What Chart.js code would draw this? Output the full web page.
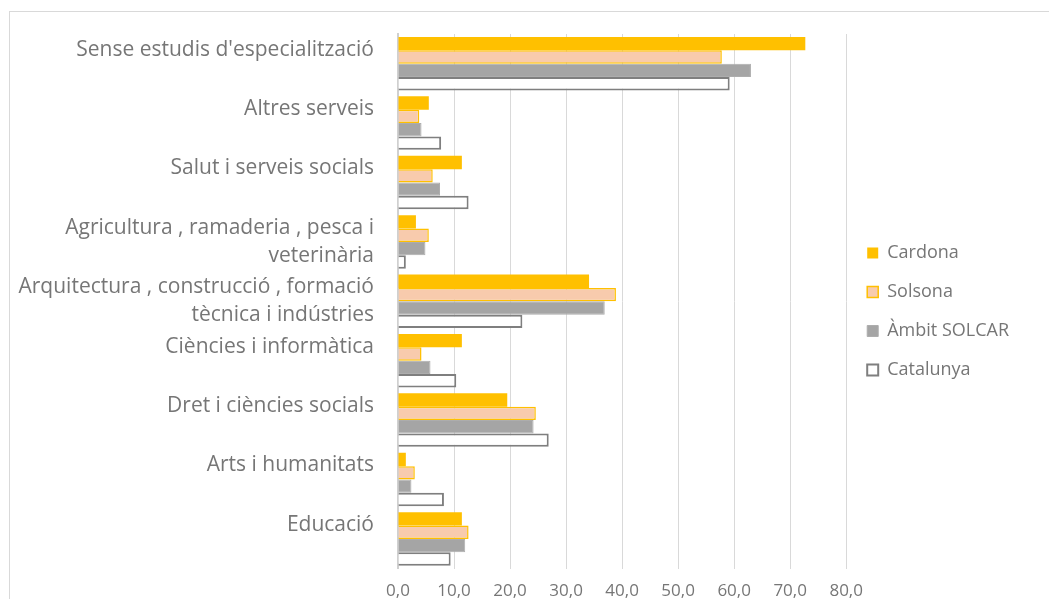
<!DOCTYPE html>
<html>
<head>
<meta charset="utf-8">
<script src="https://cdn.jsdelivr.net/npm/chart.js@4.4.1/dist/chart.umd.min.js"></script>
<style>
  html, body { margin: 0; padding: 0; background: #fff; overflow: hidden; }
  #frame { position: absolute; left: 9px; top: 11px; width: 1200px; height: 700px; border: 1px solid #d9d9d9; }
  #wrap { position: absolute; left: 0; top: 0; width: 1049px; height: 599px; }
</style>
</head>
<body>
<div id="frame"></div>
<div id="wrap"><canvas id="chart"></canvas></div>
<script>
// categories (top to bottom); single-line ones get an empty 2nd line so they sit like Excel's
const categories = [
    ["Sense estudis d'especialització", ""],
    ["Altres serveis", ""],
    ["Salut i serveis socials", ""],
    ["Agricultura , ramaderia , pesca i", "veterinària"],
    ["Arquitectura , construcció , formació", "tècnica i indústries"],
    ["Ciències i informàtica", ""],
    ["Dret i ciències socials", ""],
    ["Arts i humanitats", ""],
    ["Educació", ""]
];

const cardona   = [72.7, 5.5, 11.4, 3.2, 34.1, 11.4, 19.5, 1.4, 11.4];
const solsona   = [57.8, 3.8, 6.2, 5.5, 38.9, 4.2, 24.6, 3.0, 12.6];
const ambit     = [63.0, 4.2, 7.5, 4.9, 36.9, 5.8, 24.2, 2.4, 12.0];
const catalunya = [59.2, 7.7, 12.6, 1.4, 22.2, 10.4, 26.9, 8.2, 9.4];

const seriesNames = ['Cardona', 'Solsona', 'Àmbit SOLCAR', 'Catalunya'];

const textColor = '#767676';

// petit decalatge de la llegenda cap amunt (com a l'original)
const legendShift = {
    id: 'legendShift',
    afterLayout(chart) {
        if (!chart.legend) return;
        chart.legend.top -= 12;
        chart.legend.bottom -= 12;
    }
};

const ctx = document.getElementById('chart').getContext('2d');

new Chart(ctx, {
    type: 'bar',
    plugins: [legendShift],
    data: {
        labels: categories,
        datasets: [
            { label: seriesNames[0], data: cardona, backgroundColor: '#FFC000', borderWidth: 0 },
            { label: seriesNames[1], data: solsona, backgroundColor: '#F8CBAD', borderColor: '#FFC000', borderWidth: 1.5 },
            { label: seriesNames[2], data: ambit, backgroundColor: '#A5A5A5', borderColor: '#ADADAD', borderWidth: 1 },
            { label: seriesNames[3], data: catalunya, backgroundColor: '#FFFFFF', borderColor: '#7F7F7F', borderWidth: 2 }
        ]
    },
    options: {
        indexAxis: 'y',
        responsive: true,
        maintainAspectRatio: false,
        animation: false,
        datasets: {
            bar: { categoryPercentage: 0.9, barPercentage: 1.0, borderSkipped: 'start' }
        },
        layout: { padding: { left: 10, top: 34, right: 30, bottom: -14 } },
        plugins: {
            tooltip: { enabled: false },
            legend: {
                position: 'right',
                labels: {
                    color: textColor,
                    boxWidth: 11,
                    boxHeight: 11,
                    padding: 21,
                    font: { family: "'Open Sans'", size: 18 }
                }
            }
        },
        scales: {
            x: {
                min: 0,
                max: 80,
                ticks: {
                    stepSize: 10,
                    color: textColor,
                    padding: 12,
                    font: { family: "'Open Sans'", size: 17 },
                    callback: (v) => v.toFixed(1).replace('.', ',')
                },
                grid: { color: '#D9D9D9', lineWidth: 1, drawTicks: false },
                border: { display: false }
            },
            y: {
                afterFit: (scale) => {
                    scale.width = 388;
                    scale.paddingTop = 0;
                    scale.paddingBottom = 0;
                },
                ticks: {
                    autoSkip: false,
                    color: textColor,
                    padding: 24,
                    font: { family: "'Open Sans'", size: 21, lineHeight: 1.333 }
                },
                grid: { display: false, drawTicks: false },
                border: { display: true, color: '#D0D0D0', width: 2 }
            }
        }
    }
});
</script>
</body>
</html>
